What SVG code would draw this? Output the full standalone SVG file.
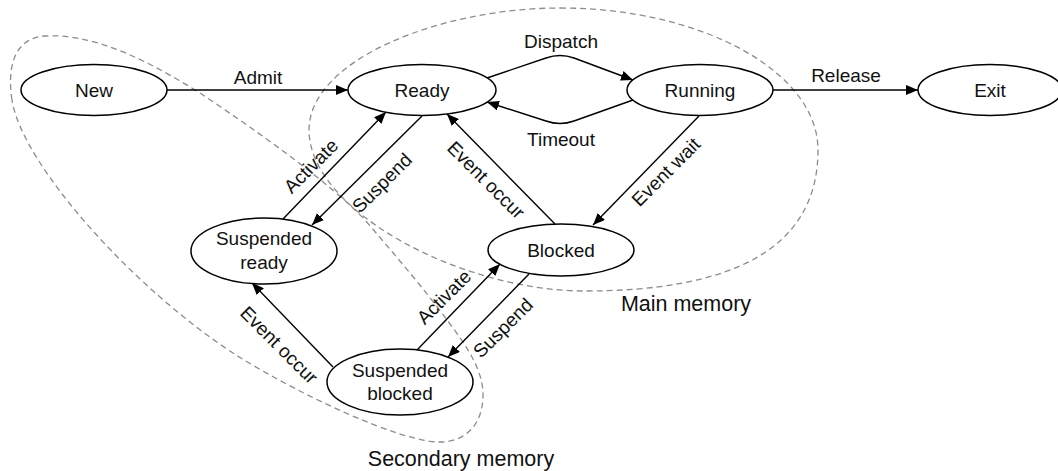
<svg xmlns="http://www.w3.org/2000/svg" width="1058" height="471" viewBox="0 0 1058 471">
<defs>
<marker id="arr" viewBox="0 0 12 10" refX="12" refY="5" markerWidth="12" markerHeight="10" markerUnits="userSpaceOnUse" orient="auto">
<path d="M0,0 L12,5 L0,10 Z" fill="#000"/>
</marker>
<style>
.node ellipse{fill:#fff;stroke:#000;stroke-width:1.5}
text{font-family:"Liberation Sans",Arial,sans-serif;font-size:19px;fill:#111}
.nt{text-anchor:middle}
.edge{fill:none;stroke:#000;stroke-width:1.4;marker-end:url(#arr)}
.mem{fill:none;stroke:#8c8c8c;stroke-width:1.3;stroke-dasharray:6 4}
.lbl{text-anchor:middle}
.big{font-size:21.5px;text-anchor:middle}
</style>
</defs>
<rect width="1058" height="471" fill="#fff"/>
<g id="regions">
<path class="mem" d="M560,8 C702,8 818,72 818,150 C818,250 730,291 585,291 C460,291 309,210 309,130 C309,60 440,8 560,8 Z"/>
<path class="mem" d="M12,100 C7,67 14,38 45,36 C95,33 150,62 200,93 C260,133 330,183 365,220 C395,255 425,290 447,320 C470,350 483,372 483,395 C483,425 465,442 440,442 C400,442 300,395 236,355 C135,290 22,165 12,100 Z"/>
<text class="big" x="686" y="311">Main memory</text>
<text class="big" x="461" y="466">Secondary memory</text>
</g>
<g id="connectors">
<path class="edge" d="M167,90 L348,90"/>
<path class="edge" d="M487,78 L546,58 Q560,53 574,58 L633,80"/>
<path class="edge" d="M633,100 L574,121 Q560,126 546,121 L487,102"/>
<path class="edge" d="M773,90 L918,90"/>
<path class="edge" d="M422,116 L312,225"/>
<path class="edge" d="M283,219 L386,112"/>
<path class="edge" d="M555,224 L447,114"/>
<path class="edge" d="M699,116 L593,225"/>
<path class="edge" d="M529,274 L448,357"/>
<path class="edge" d="M417,350 L500,264"/>
<path class="edge" d="M333,367 L252,283"/>
<text class="lbl" x="258" y="84">Admit</text>
<text class="lbl" x="561" y="48">Dispatch</text>
<text class="lbl" x="561" y="146">Timeout</text>
<text class="lbl" x="846" y="82">Release</text>
<text class="lbl" transform="translate(311 166) rotate(-45)" y="6.5">Activate</text>
<text class="lbl" transform="translate(382 183) rotate(-45)" y="6.5">Suspend</text>
<text class="lbl" transform="translate(486 180) rotate(45)" y="6.5">Event occur</text>
<text class="lbl" transform="translate(666 172) rotate(-45)" y="6.5">Event wait</text>
<text class="lbl" transform="translate(503 328) rotate(-45)" y="6.5">Suspend</text>
<text class="lbl" transform="translate(444 297) rotate(-45)" y="6.5">Activate</text>
<text class="lbl" transform="translate(279 345) rotate(45)" y="6.5">Event occur</text>
</g>
<g id="new" class="node"><ellipse cx="94" cy="90" rx="73" ry="25.5"/><text class="nt" x="94" y="97">New</text></g>
<g id="ready" class="node"><ellipse cx="422" cy="90" rx="74" ry="25.5"/><text class="nt" x="422" y="97">Ready</text></g>
<g id="running" class="node"><ellipse cx="700" cy="90" rx="73" ry="25.5"/><text class="nt" x="700" y="97">Running</text></g>
<g id="exit" class="node"><ellipse cx="990" cy="90" rx="72" ry="25.5"/><text class="nt" x="990" y="97">Exit</text></g>
<g id="blocked" class="node"><ellipse cx="561" cy="250" rx="73" ry="26"/><text class="nt" x="561" y="257">Blocked</text></g>
<g id="suspended-ready" class="node"><ellipse cx="264" cy="251" rx="73" ry="33"/><text class="nt" x="264" y="245">Suspended</text><text class="nt" x="264" y="269">ready</text></g>
<g id="suspended-blocked" class="node"><ellipse cx="400" cy="382" rx="73" ry="33"/><text class="nt" x="400" y="377">Suspended</text><text class="nt" x="400" y="400">blocked</text></g>
</svg>
